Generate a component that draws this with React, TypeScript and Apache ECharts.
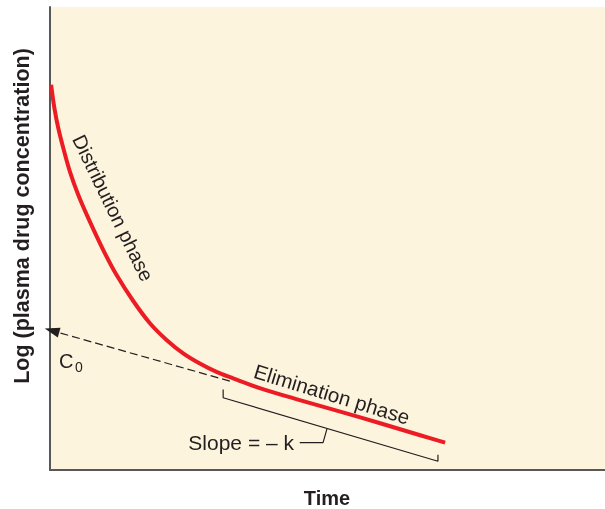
import React, { useEffect, useRef } from "react";
import * as echarts from "echarts";

// Time (arbitrary units, 0–100) and log concentration (arbitrary units, 0–100)
const curveTime = [0.2, 0.8, 1.5, 2.4, 3.6, 5.1, 6.9, 9.6, 12.0, 15.0, 18.0, 21.0, 24.0, 27.0, 30.0, 33.0, 37.8, 45.0, 52.3, 59.5, 66.7, 71.2];
const curveLogConc = [83.2, 78.1, 73.8, 69.5, 64.4, 59.4, 54.4, 47.5, 42.1, 36.5, 31.7, 28.1, 25.2, 23.0, 21.2, 19.8, 17.7, 15.1, 12.6, 10.1, 7.5, 5.9];

// Back-extrapolation of the elimination phase to C0
const extrapStart = [32.4, 19.2];
const extrapEnd = [0.35, 30.1];

// Bracket under the elimination phase
const bracketTime = [31.2, 31.2, 69.9, 69.9];
const bracketLogConc = [17.4, 15.6, 1.9, 3.3];

// Connector from "Slope = – k" label to bracket
const connectorTime = [45.0, 49.2, 49.9];
const connectorLogConc = [5.9, 5.9, 8.9];

const INK = "#231F20";
const FONT = '"Liberation Sans", Arial, sans-serif';

export default function App() {
  const ref = useRef<HTMLDivElement>(null);
  useEffect(() => {
    if (!ref.current) return;
    const chart = echarts.init(ref.current, undefined, { renderer: "svg" });
    const deg = Math.PI / 180;
    chart.setOption({
      animation: false,
      grid: {
        left: 50,
        top: 7,
        right: 0,
        bottom: 39,
        show: true,
        backgroundColor: "#FDF4DD",
        borderWidth: 0,
      },
      xAxis: {
        type: "value",
        min: 0,
        max: 100,
        axisLine: { show: true, lineStyle: { color: "#58585A", width: 2 } },
        axisTick: { show: false },
        axisLabel: { show: false },
        splitLine: { show: false },
      },
      yAxis: {
        type: "value",
        min: 0,
        max: 100,
        axisLine: { show: true, lineStyle: { color: "#58585A", width: 2 } },
        axisTick: { show: false },
        axisLabel: { show: false },
        splitLine: { show: false },
      },
      series: [
        {
          type: "line",
          name: "bracket",
          data: bracketTime.map((t, i) => [t, bracketLogConc[i]]),
          symbol: "none",
          lineStyle: { color: INK, width: 1.2 },
          silent: true,
          z: 2,
        },
        {
          type: "line",
          name: "connector",
          data: connectorTime.map((t, i) => [t, connectorLogConc[i]]),
          symbol: "none",
          lineStyle: { color: INK, width: 1.2 },
          silent: true,
          z: 2,
        },
        {
          type: "line",
          name: "concentration",
          data: curveTime.map((t, i) => [t, curveLogConc[i]]),
          symbol: "none",
          smooth: 0.35,
          lineStyle: { color: "#EC1C24", width: 4, cap: "butt", join: "round" },
          silent: true,
          z: 3,
          markLine: {
            silent: true,
            symbol: ["none", "triangle"],
            symbolSize: [10, 15],
            label: { show: false },
            lineStyle: { color: INK, width: 1.2, type: [8, 4] },
            data: [[{ coord: extrapStart }, { coord: extrapEnd }]],
          },
        },
      ],
      graphic: [
        {
          type: "text",
          x: 22,
          y: 216,
          rotation: Math.PI / 2,
          style: {
            text: "Log (plasma drug concentration)",
            font: `bold 21.5px ${FONT}`,
            fill: INK,
            align: "center",
            verticalAlign: "middle",
          },
        },
        {
          type: "text",
          x: 327,
          y: 498,
          style: {
            text: "Time",
            font: `bold 20px ${FONT}`,
            fill: INK,
            align: "center",
            verticalAlign: "middle",
          },
        },
        {
          type: "text",
          x: 113,
          y: 208,
          rotation: -64 * deg,
          style: {
            text: "Distribution phase",
            font: `20px ${FONT}`,
            fill: INK,
            align: "center",
            verticalAlign: "middle",
          },
        },
        {
          type: "text",
          x: 332,
          y: 394,
          rotation: -17 * deg,
          style: {
            text: "Elimination phase",
            font: `20.5px ${FONT}`,
            fill: INK,
            align: "center",
            verticalAlign: "middle",
          },
        },
        {
          type: "text",
          x: 59,
          y: 361,
          style: {
            text: "C",
            font: `20px ${FONT}`,
            fill: INK,
            align: "left",
            verticalAlign: "middle",
          },
        },
        {
          type: "text",
          x: 75,
          y: 367,
          style: {
            text: "0",
            font: `14px ${FONT}`,
            fill: INK,
            align: "left",
            verticalAlign: "middle",
          },
        },
        {
          type: "text",
          x: 294,
          y: 442,
          style: {
            text: "Slope = – k",
            font: `21px ${FONT}`,
            fill: INK,
            align: "right",
            verticalAlign: "middle",
          },
        },
      ],
    });
    return () => chart.dispose();
  }, []);
  return (
    <div
      ref={ref}
      style={{ position: "fixed", left: 0, top: 0, width: 605, height: 509 }}
    />
  );
}
